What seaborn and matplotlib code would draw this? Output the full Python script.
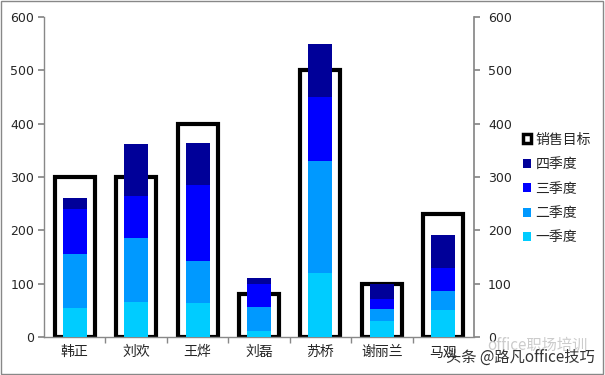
import numpy as np
import pandas as pd
import matplotlib
matplotlib.use("Agg")
import matplotlib.pyplot as plt
from matplotlib.patches import Patch, Rectangle
from matplotlib.ticker import FixedLocator
import seaborn as sns

# data
names = ['韩正', '刘欢', '王烨', '刘磊', '苏桥', '谢丽兰', '马观']
target = [300, 300, 400, 80, 500, 100, 230]
q1 = [55, 66, 64, 12, 120, 30, 51]
q2 = [100, 120, 79, 45, 210, 23, 35]
q3 = [85, 79, 142, 42, 120, 18, 43]
q4 = [21, 97, 79, 11, 99, 29, 62]
quarter_labels = ['一季度', '二季度', '三季度', '四季度']
quarter_colors = ['#00CCFF', '#0099FF', '#0000FF', '#000099']
yticks = [0, 100, 200, 300, 400, 500, 600]

sns.set_theme(style='white')
plt.rcParams['font.family'] = ['DejaVu Sans', 'Noto Sans CJK SC']
cjk = ['Noto Sans CJK SC', 'DejaVu Sans']

df = pd.DataFrame({'name': names, 'target': target,
                   'q1': q1, 'q2': q2, 'q3': q3, 'q4': q4})
# cumulative tops for stacking
df['c1'] = df['q1']
df['c2'] = df['c1'] + df['q2']
df['c3'] = df['c2'] + df['q3']
df['c4'] = df['c3'] + df['q4']

fig = plt.figure(figsize=(6.05, 3.75), dpi=100)
ax = fig.add_axes([0.0727, 0.1013, 0.7108, 0.8534])

sns.barplot(data=df, x='name', y='target', ax=ax, color='white', width=0.65,
            saturation=1, edgecolor='black', linewidth=3, zorder=2)
for col, c in zip(['c4', 'c3', 'c2', 'c1'], quarter_colors[::-1]):
    sns.barplot(data=df, x='name', y=col, ax=ax, color=c, width=0.39,
                saturation=1, linewidth=0, zorder=3)

ax.set_ylim(0, 600)
ax.set_xlim(-0.5, len(names) - 0.5)
ax.set_yticks(yticks)
ax.set_xlabel('')
ax.set_ylabel('')
for s in ['top', 'right']:
    ax.spines[s].set_visible(False)
for s in ['left', 'bottom']:
    ax.spines[s].set_color('#888888')
    ax.spines[s].set_linewidth(1)
ax.tick_params(axis='y', direction='out', length=4, color='#888888', labelsize=9,
               left=True, pad=3)
ax.tick_params(axis='x', length=0, labelsize=10, pad=6)
ax.xaxis.set_minor_locator(FixedLocator(np.arange(0.5, len(names) - 0.5, 1)))
ax.tick_params(axis='x', which='minor', direction='out', length=4,
               color='#888888', bottom=True)

ax2 = ax.twinx()
ax2.set_ylim(0, 600)
ax2.set_yticks(yticks)
for s in ['top', 'left', 'bottom']:
    ax2.spines[s].set_visible(False)
ax2.spines['right'].set_color('#888888')
ax2.tick_params(axis='y', direction='out', length=4, color='#888888', labelsize=9,
                right=True, pad=6)

handles = [Patch(facecolor='white', edgecolor='black', linewidth=2.5, label='销售目标')]
for lab, c in zip(quarter_labels[::-1], quarter_colors[::-1]):
    handles.append(Patch(facecolor=c, edgecolor='none', label=lab))
fig.legend(handles=handles, loc='center left', bbox_to_anchor=(0.855, 0.497),
           frameon=False, fontsize=10, handlelength=0.6, handleheight=0.6,
           handletextpad=0.3, labelspacing=0.75, borderaxespad=0)

# watermark
fig.text(0.805, 0.068, 'office职场培训', fontsize=11, color='#cccccc', family=cjk)
fig.text(0.738, 0.036, '头条 @路凡office技巧', fontsize=11, color='#333333', family=cjk)

fig.patches.append(Rectangle((0.002, 0.003), 0.995, 0.994, transform=fig.transFigure,
                             fill=False, edgecolor='#888888', linewidth=1))

fig.savefig('out.png', dpi=100)
